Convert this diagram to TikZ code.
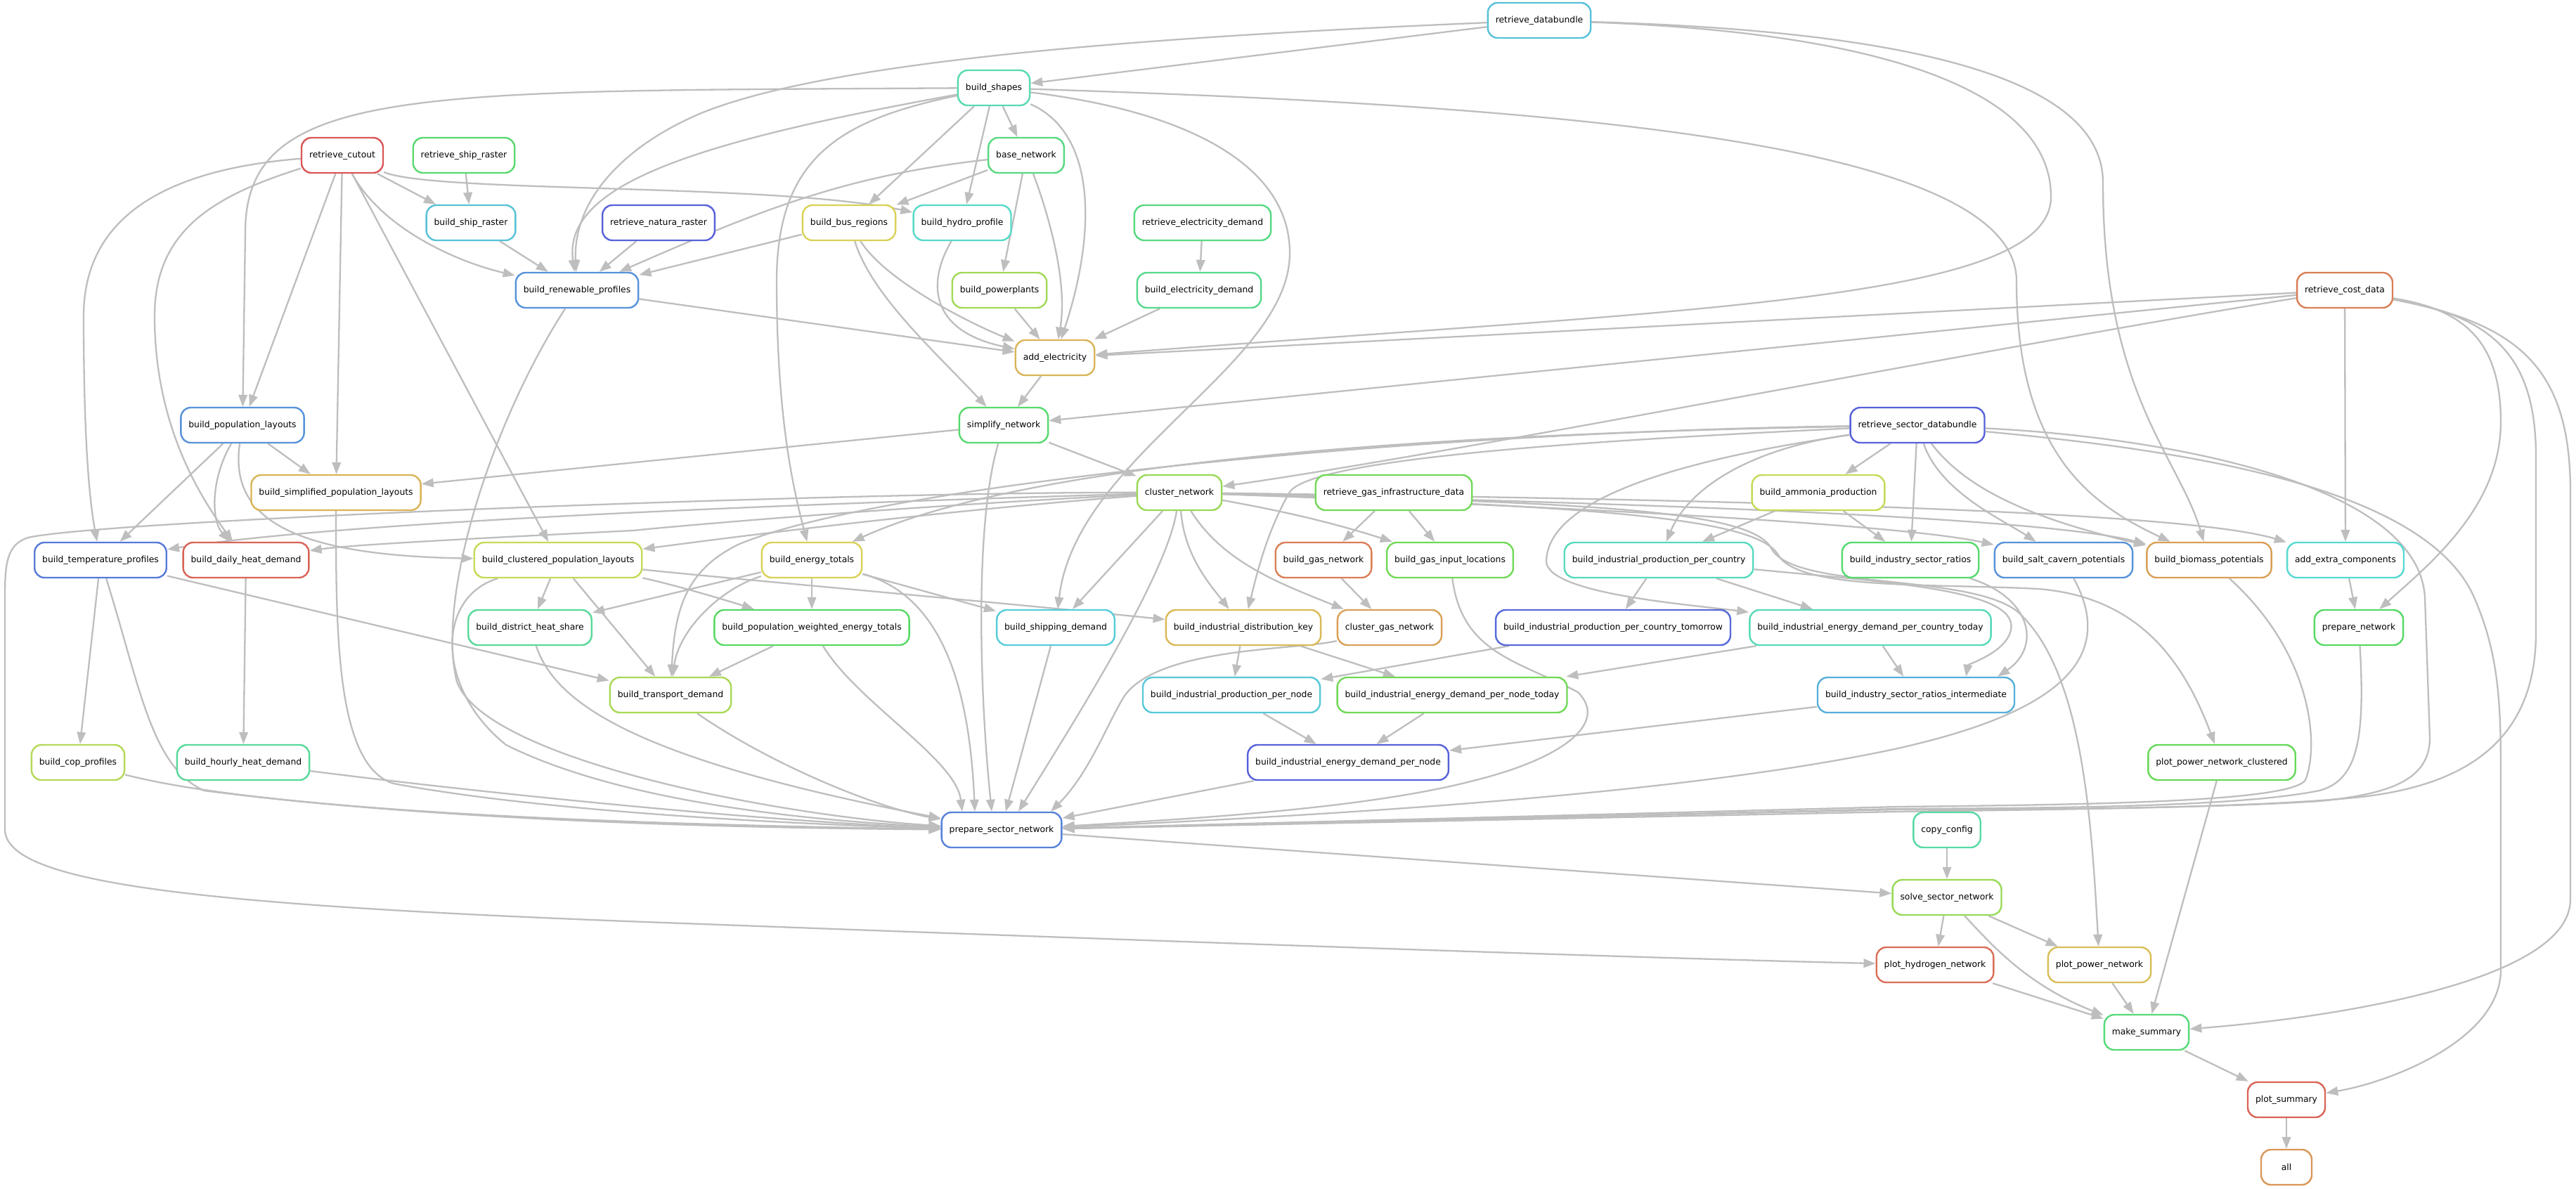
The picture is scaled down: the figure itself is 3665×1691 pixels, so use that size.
\documentclass[tikz,border=0pt]{standalone}
\usepackage{fontspec}
\setmainfont{DejaVu Sans}
\usetikzlibrary{arrows.meta}
\pgfdeclarelayer{bg}
\pgfsetlayers{bg,main}
\definecolor{edgegray}{RGB}{190,190,190}
\tikzset{
  nd/.style={draw, rounded corners=0.28cm, line width=0.048cm, minimum height=1cm, minimum width=1.44cm, inner xsep=0.22cm, inner ysep=0pt, fill=white, text=black, font=\fontsize{7.02}{8.4}\selectfont},
  edg/.style={draw=edgegray, line width=0.046cm, -{Triangle[length=0.34cm,width=0.25cm]}},
}
\newcommand{\mknode}[7]{\node[nd, draw={rgb,255:red,#4;green,#5;blue,#6}] (#1) at (#2,#3) {#7};}
\begin{document}
\begin{tikzpicture}[x=0.02cm,y=-0.02cm]
\useasboundingbox (0,0) rectangle (3665,1691);
\begin{pgfonlayer}{bg}\fill[white] (0,0) rectangle (3665,1691);\end{pgfonlayer}
\mknode{rdb}{2190}{29}{87}{193}{217}{retrieve\_databundle}
\mknode{bshapes}{1414}{125}{87}{217}{178}{build\_shapes}
\mknode{rcut}{487}{221}{217}{87}{87}{retrieve\_cutout}
\mknode{rship}{660}{221}{87}{217}{109}{retrieve\_ship\_raster}
\mknode{basenet}{1460}{221}{87}{217}{130}{base\_network}
\mknode{bship}{670}{317}{87}{193}{217}{build\_ship\_raster}
\mknode{rnat}{937}{317}{87}{97}{217}{retrieve\_natura\_raster}
\mknode{bbus}{1208}{317}{217}{209}{87}{build\_bus\_regions}
\mknode{bhydro}{1369}{317}{87}{217}{201}{build\_hydro\_profile}
\mknode{redem}{1711}{317}{87}{217}{130}{retrieve\_electricity\_demand}
\mknode{brenew}{821}{413}{87}{146}{217}{build\_renewable\_profiles}
\mknode{bpp}{1422}{413}{160}{217}{87}{build\_powerplants}
\mknode{beldem}{1706}{413}{87}{217}{140}{build\_electricity\_demand}
\mknode{rcost}{3336}{413}{217}{126}{87}{retrieve\_cost\_data}
\mknode{addel}{1501}{509}{217}{180}{87}{add\_electricity}
\mknode{simpl}{1428}{605}{87}{217}{109}{simplify\_network}
\mknode{bpop}{345}{605}{87}{146}{217}{build\_population\_layouts}
\mknode{rsec}{2728}{605}{87}{97}{217}{retrieve\_sector\_databundle}
\mknode{bsimpop}{478}{701}{217}{180}{87}{build\_simplified\_population\_layouts}
\mknode{clus}{1678}{701}{152}{217}{87}{cluster\_network}
\mknode{rgas}{1983}{701}{113}{217}{87}{retrieve\_gas\_infrastructure\_data}
\mknode{bammo}{2587}{701}{200}{217}{87}{build\_ammonia\_production}
\mknode{btemp}{143}{797}{87}{122}{217}{build\_temperature\_profiles}
\mknode{bdaily}{350}{797}{217}{100}{87}{build\_daily\_heat\_demand}
\mknode{bclpop}{794}{797}{200}{217}{87}{build\_clustered\_population\_layouts}
\mknode{benergy}{1155}{797}{217}{209}{87}{build\_energy\_totals}
\mknode{bgasnet}{1883}{797}{217}{126}{87}{build\_gas\_network}
\mknode{bgasin}{2063}{797}{113}{217}{87}{build\_gas\_input\_locations}
\mknode{bindprod}{2360}{797}{87}{217}{190}{build\_industrial\_production\_per\_country}
\mknode{bisr}{2718}{797}{87}{217}{109}{build\_industry\_sector\_ratios}
\mknode{bsalt}{2936}{797}{87}{146}{217}{build\_salt\_cavern\_potentials}
\mknode{bbio}{3143}{797}{217}{160}{87}{build\_biomass\_potentials}
\mknode{addextra}{3337}{797}{87}{217}{210}{add\_extra\_components}
\mknode{bdhs}{754}{893}{87}{217}{153}{build\_district\_heat\_share}
\mknode{bpwet}{1155}{893}{87}{217}{100}{build\_population\_weighted\_energy\_totals}
\mknode{bshipdem}{1502}{893}{87}{205}{217}{build\_shipping\_demand}
\mknode{bidk}{1769}{893}{217}{185}{87}{build\_industrial\_distribution\_key}
\mknode{clgas}{1977}{893}{217}{160}{87}{cluster\_gas\_network}
\mknode{bipt}{2295}{893}{87}{105}{217}{build\_industrial\_production\_per\_country\_tomorrow}
\mknode{biedct}{2661}{893}{87}{217}{185}{build\_industrial\_energy\_demand\_per\_country\_today}
\mknode{prepnet}{3356}{893}{87}{217}{100}{prepare\_network}
\mknode{btrans}{954}{989}{170}{217}{87}{build\_transport\_demand}
\mknode{bippn}{1752}{989}{87}{200}{217}{build\_industrial\_production\_per\_node}
\mknode{biednt}{2066}{989}{113}{217}{87}{build\_industrial\_energy\_demand\_per\_node\_today}
\mknode{bisri}{2726}{989}{87}{175}{217}{build\_industry\_sector\_ratios\_intermediate}
\mknode{bcop}{111}{1085}{180}{217}{87}{build\_cop\_profiles}
\mknode{bhourly}{346}{1085}{87}{217}{153}{build\_hourly\_heat\_demand}
\mknode{biedn}{1918}{1085}{87}{97}{217}{build\_industrial\_energy\_demand\_per\_node}
\mknode{ppnc}{3161}{1085}{100}{217}{87}{plot\_power\_network\_clustered}
\mknode{psn}{1425}{1181}{87}{130}{217}{prepare\_sector\_network}
\mknode{copycfg}{2770}{1181}{87}{217}{165}{copy\_config}
\mknode{solve}{2770}{1277}{152}{217}{87}{solve\_sector\_network}
\mknode{ph2}{2753}{1373}{217}{110}{87}{plot\_hydrogen\_network}
\mknode{ppn}{2987}{1373}{217}{190}{87}{plot\_power\_network}
\mknode{msum}{3054}{1469}{87}{217}{120}{make\_summary}
\mknode{psum}{3253}{1565}{217}{100}{87}{plot\_summary}
\mknode{all}{3253}{1661}{217}{150}{87}{all}
\begin{pgfonlayer}{bg}
% retrieve_databundle / build_shapes
\draw[edg] (rdb) -- (bshapes);
\draw[edg] (rdb) .. controls (1700,50) and (1200,80) .. (1000,160) .. controls (880,210) and (815,290) .. (brenew);
\draw[edg] (rdb) .. controls (2650,45) and (2918,120) .. (2918,280) .. controls (2918,430) and (2400,440) .. (addel);
\draw[edg] (rdb) .. controls (2750,45) and (2992,120) .. (2992,260) .. controls (2992,560) and (3100,650) .. (bbio);
\draw[edg] (bshapes) .. controls (600,130) and (349,120) .. (349,330) -- (bpop);
\draw[edg] (bshapes) .. controls (1000,200) and (800,260) .. (brenew);
\draw[edg] (bshapes) .. controls (1200,170) and (1105,220) .. (1105,400) .. controls (1105,600) and (1130,700) .. (benergy);
\draw[edg] (bshapes) -- (bbus);
\draw[edg] (bshapes) -- (bhydro);
\draw[edg] (bshapes) -- (basenet);
\draw[edg] (bshapes) .. controls (1560,190) and (1560,330) .. (addel);
\draw[edg] (bshapes) .. controls (1700,160) and (1835,240) .. (1835,360) .. controls (1835,520) and (1530,650) .. (bshipdem);
\draw[edg] (bshapes) .. controls (2200,150) and (2869,200) .. (2869,400) .. controls (2869,650) and (2980,720) .. (bbio);
% retrieve_cutout
\draw[edg] (rcut) -- (bship);
\draw[edg] (rcut) .. controls (620,275) and (1100,260) .. (bhydro);
\draw[edg] (rcut) .. controls (540,320) and (640,370) .. (brenew);
\draw[edg] (rcut) -- (bpop);
\draw[edg] (rcut) -- (bsimpop);
\draw[edg] (rcut) -- (bclpop);
\draw[edg] (rcut) .. controls (250,240) and (119,300) .. (119,450) .. controls (119,600) and (125,700) .. (btemp);
\draw[edg] (rcut) .. controls (300,280) and (220,330) .. (220,450) .. controls (220,600) and (280,700) .. (bdaily);
\draw[edg] (rship) -- (bship);
\draw[edg] (bship) -- (brenew);
\draw[edg] (rnat) -- (brenew);
\draw[edg] (basenet) -- (bbus);
\draw[edg] (basenet) .. controls (1200,250) and (1080,300) .. (brenew);
\draw[edg] (bbus) -- (brenew);
\draw[edg] (basenet) -- (bpp);
\draw[edg] (basenet) .. controls (1490,300) and (1520,400) .. (addel);
\draw[edg] (bbus) .. controls (1260,400) and (1380,460) .. (addel);
\draw[edg] (bbus) .. controls (1240,420) and (1330,500) .. (simpl);
\draw[edg] (bhydro) .. controls (1320,400) and (1320,470) .. (addel);
\draw[edg] (bpp) -- (addel);
\draw[edg] (redem) -- (beldem);
\draw[edg] (beldem) -- (addel);
\draw[edg] (brenew) -- (addel);
\draw[edg] (brenew) .. controls (700,600) and (620,850) .. (650,970) .. controls (690,1080) and (1100,1160) .. (psn);
\draw[edg] (addel) -- (simpl);
% retrieve_cost_data
\draw[edg] (rcost) -- (addel);
\draw[edg] (rcost) -- (simpl);
\draw[edg] (rcost) .. controls (2800,500) and (2100,640) .. (clus);
\draw[edg] (rcost) -- (addextra);
\draw[edg] (rcost) .. controls (3500,440) and (3558,480) .. (3558,600) .. controls (3558,720) and (3460,800) .. (prepnet);
\draw[edg] (rcost) .. controls (3540,450) and (3608,500) .. (3608,650) -- (3608,900) .. controls (3608,1060) and (3500,1120) .. (3350,1135) .. controls (3200,1150) and (2900,1152) .. (2700,1155) -- (psn);
\draw[edg] (rcost) .. controls (3580,460) and (3657,520) .. (3657,700) -- (3657,1280) .. controls (3657,1400) and (3300,1450) .. (msum);
% retrieve_sector_databundle
\draw[edg] (rsec) .. controls (3100,640) and (3450,690) .. (3520,850) .. controls (3555,930) and (3558,1000) .. (3558,1100) -- (3558,1380) .. controls (3558,1480) and (3400,1540) .. (psum);
\draw[edg] (rsec) .. controls (3050,620) and (3440,680) .. (3450,850) -- (3457,1050) .. controls (3457,1110) and (3400,1130) .. (3300,1140) .. controls (3150,1150) and (2900,1152) .. (2700,1152) -- (psn);
\draw[edg] (rsec) .. controls (2200,615) and (1500,640) .. (benergy);
\draw[edg] (rsec) .. controls (2000,615) and (1250,690) .. (1050,775) .. controls (980,810) and (960,860) .. (btrans);
\draw[edg] (rsec) .. controls (2300,625) and (1870,650) .. (1835,700) .. controls (1800,760) and (1785,830) .. (bidk);
\draw[edg] (rsec) -- (bammo);
\draw[edg] (rsec) .. controls (2480,640) and (2400,700) .. (bindprod);
\draw[edg] (rsec) -- (bisr);
\draw[edg] (rsec) .. controls (2760,700) and (2850,740) .. (bsalt);
\draw[edg] (rsec) .. controls (2800,700) and (2900,740) .. (bbio);
\draw[edg] (rsec) .. controls (2350,660) and (2200,720) .. (2200,800) .. controls (2205,845) and (2400,860) .. (biedct);
% cluster_network
\draw[edg] (clus) .. controls (1200,715) and (500,740) .. (btemp);
\draw[edg] (clus) .. controls (1300,720) and (1000,745) .. (900,755) .. controls (700,765) and (500,775) .. (bdaily);
\draw[edg] (clus) .. controls (1300,730) and (1000,770) .. (bclpop);
\draw[edg] (clus) .. controls (1200,700) and (150,740) .. (40,765) .. controls (10,775) and (7,800) .. (7,850) -- (7,1180) .. controls (7,1260) and (300,1290) .. (1000,1315) .. controls (1800,1345) and (2400,1365) .. (ph2);
\draw[edg] (clus) -- (bshipdem);
\draw[edg] (clus) .. controls (1660,820) and (1520,1040) .. ([xshift=0.48cm]psn.north);
\draw[edg] (clus) .. controls (1685,790) and (1720,830) .. (bidk);
\draw[edg] (clus) .. controls (1740,800) and (1820,830) .. (clgas);
\draw[edg] (clus) .. controls (1830,728) and (1900,745) .. (bgasin);
\draw[edg] (clus) .. controls (2200,720) and (2700,745) .. (bsalt);
\draw[edg] (clus) .. controls (2300,715) and (2900,735) .. (bbio);
\draw[edg] (clus) .. controls (2400,710) and (3100,725) .. (addextra);
\draw[edg] (clus) .. controls (2250,720) and (2500,735) .. (2530,790) .. controls (2560,840) and (2750,830) .. (2900,838) .. controls (3050,850) and (3110,950) .. (ppnc);
\draw[edg] (clus) .. controls (2250,715) and (2490,725) .. (2520,780) .. controls (2550,840) and (2800,815) .. (2870,870) .. controls (2960,950) and (2975,1150) .. (ppn);
% simplify / population
\draw[edg] (simpl) -- (bsimpop);
\draw[edg] (simpl) .. controls (1385,750) and (1395,1000) .. ([xshift=-0.28cm]psn.north);
\draw[edg] (simpl) -- (clus);
\draw[edg] (bpop) -- (bsimpop);
\draw[edg] (bpop) -- (btemp);
\draw[edg] (bpop) .. controls (300,680) and (300,740) .. (bdaily);
\draw[edg] (bpop) .. controls (325,740) and (420,790) .. (bclpop);
\draw[edg] (bsimpop) .. controls (478,900) and (478,1090) .. (560,1115) .. controls (800,1160) and (1200,1175) .. (psn);
\draw[edg] (btemp) -- (bcop);
\draw[edg] (btemp) .. controls (200,980) and (215,1090) .. (290,1125) .. controls (600,1165) and (1000,1178) .. (psn);
\draw[edg] (btemp) -- (btrans);
\draw[edg] (bdaily) -- (bhourly);
\draw[edg] (bcop) .. controls (400,1160) and (1000,1175) .. (psn);
\draw[edg] (bhourly) .. controls (700,1130) and (1100,1170) .. (psn);
\draw[edg] (bclpop) -- (bdhs);
\draw[edg] (bclpop) -- (btrans);
\draw[edg] (bclpop) .. controls (950,830) and (1020,850) .. (bpwet);
\draw[edg] (bclpop) .. controls (1000,820) and (1400,855) .. (bidk);
\draw[edg] (bclpop) .. controls (620,850) and (620,980) .. (720,1060) .. controls (900,1150) and (1200,1170) .. (psn);
\draw[edg] (bdhs) .. controls (790,1000) and (900,1080) .. (psn);
% energy totals
\draw[edg] (benergy) -- (bpwet);
\draw[edg] (benergy) -- (bshipdem);
\draw[edg] (benergy) .. controls (1020,840) and (965,900) .. (btrans);
\draw[edg] (benergy) -- (bdhs);
\draw[edg] (benergy) .. controls (1350,850) and (1380,1000) .. ([xshift=-0.76cm]psn.north);
\draw[edg] (bpwet) -- (btrans);
\draw[edg] (bpwet) .. controls (1220,1000) and (1360,1080) .. ([xshift=-1.12cm]psn.north);
\draw[edg] (btrans) .. controls (1100,1090) and (1250,1150) .. (psn);
\draw[edg] (bshipdem) -- ([xshift=0.12cm]psn.north);
% industry / gas
\draw[edg] (bidk) -- (bippn);
\draw[edg] (bidk) -- (biednt);
\draw[edg] (clgas) .. controls (1850,925) and (1650,920) .. (1600,990) .. controls (1575,1030) and (1550,1100) .. ([xshift=1.4cm]psn.north);
\draw[edg] (bgasnet) -- (clgas);
\draw[edg] (rgas) -- (bgasnet);
\draw[edg] (rgas) -- (bgasin);
\draw[edg] (bgasin) .. controls (2080,930) and (2160,940) .. (2245,985) .. controls (2290,1030) and (2220,1080) .. (2100,1110) .. controls (1950,1150) and (1700,1165) .. (psn);
\draw[edg] (bindprod) -- (bipt);
\draw[edg] (bindprod) -- (biedct);
\draw[edg] (bindprod) .. controls (2700,830) and (2880,840) .. (2860,900) .. controls (2850,930) and (2800,945) .. ([xshift=-1.4cm]bisri.north east);
\draw[edg] (bammo) -- (bindprod);
\draw[edg] (bammo) -- (bisr);
\draw[edg] (bisr) .. controls (2890,850) and (2905,920) .. ([xshift=-0.5cm]bisri.north east);
\draw[edg] (bipt) -- (bippn);
\draw[edg] (biedct) -- (biednt);
\draw[edg] (biedct) -- (bisri);
\draw[edg] (bippn) -- (biedn);
\draw[edg] (biednt) -- (biedn);
\draw[edg] (bisri) -- (biedn);
\draw[edg] (biedn) -- (psn);
\draw[edg] (bsalt) .. controls (3020,950) and (2900,1020) .. (2700,1065) .. controls (2400,1130) and (1900,1160) .. (psn);
\draw[edg] (bbio) .. controls (3290,930) and (3300,1060) .. (3280,1110) .. controls (3260,1140) and (3000,1145) .. (2700,1148) -- (psn);
\draw[edg] (addextra) -- (prepnet);
\draw[edg] (prepnet) .. controls (3365,1050) and (3355,1110) .. (3300,1125) .. controls (3200,1145) and (3000,1150) .. (2700,1151) -- (psn);
% bottom
\draw[edg] (psn) -- (solve);
\draw[edg] (copycfg) -- (solve);
\draw[edg] (solve) -- (ph2);
\draw[edg] (solve) -- (ppn);
\draw[edg] (solve) .. controls (2830,1340) and (2880,1400) .. (msum);
\draw[edg] (ph2) -- (msum);
\draw[edg] (ppn) -- (msum);
\draw[edg] (ppnc) -- (msum);
\draw[edg] (msum) -- (psum);
\draw[edg] (psum) -- (all);
\end{pgfonlayer}
\end{tikzpicture}
\end{document}
